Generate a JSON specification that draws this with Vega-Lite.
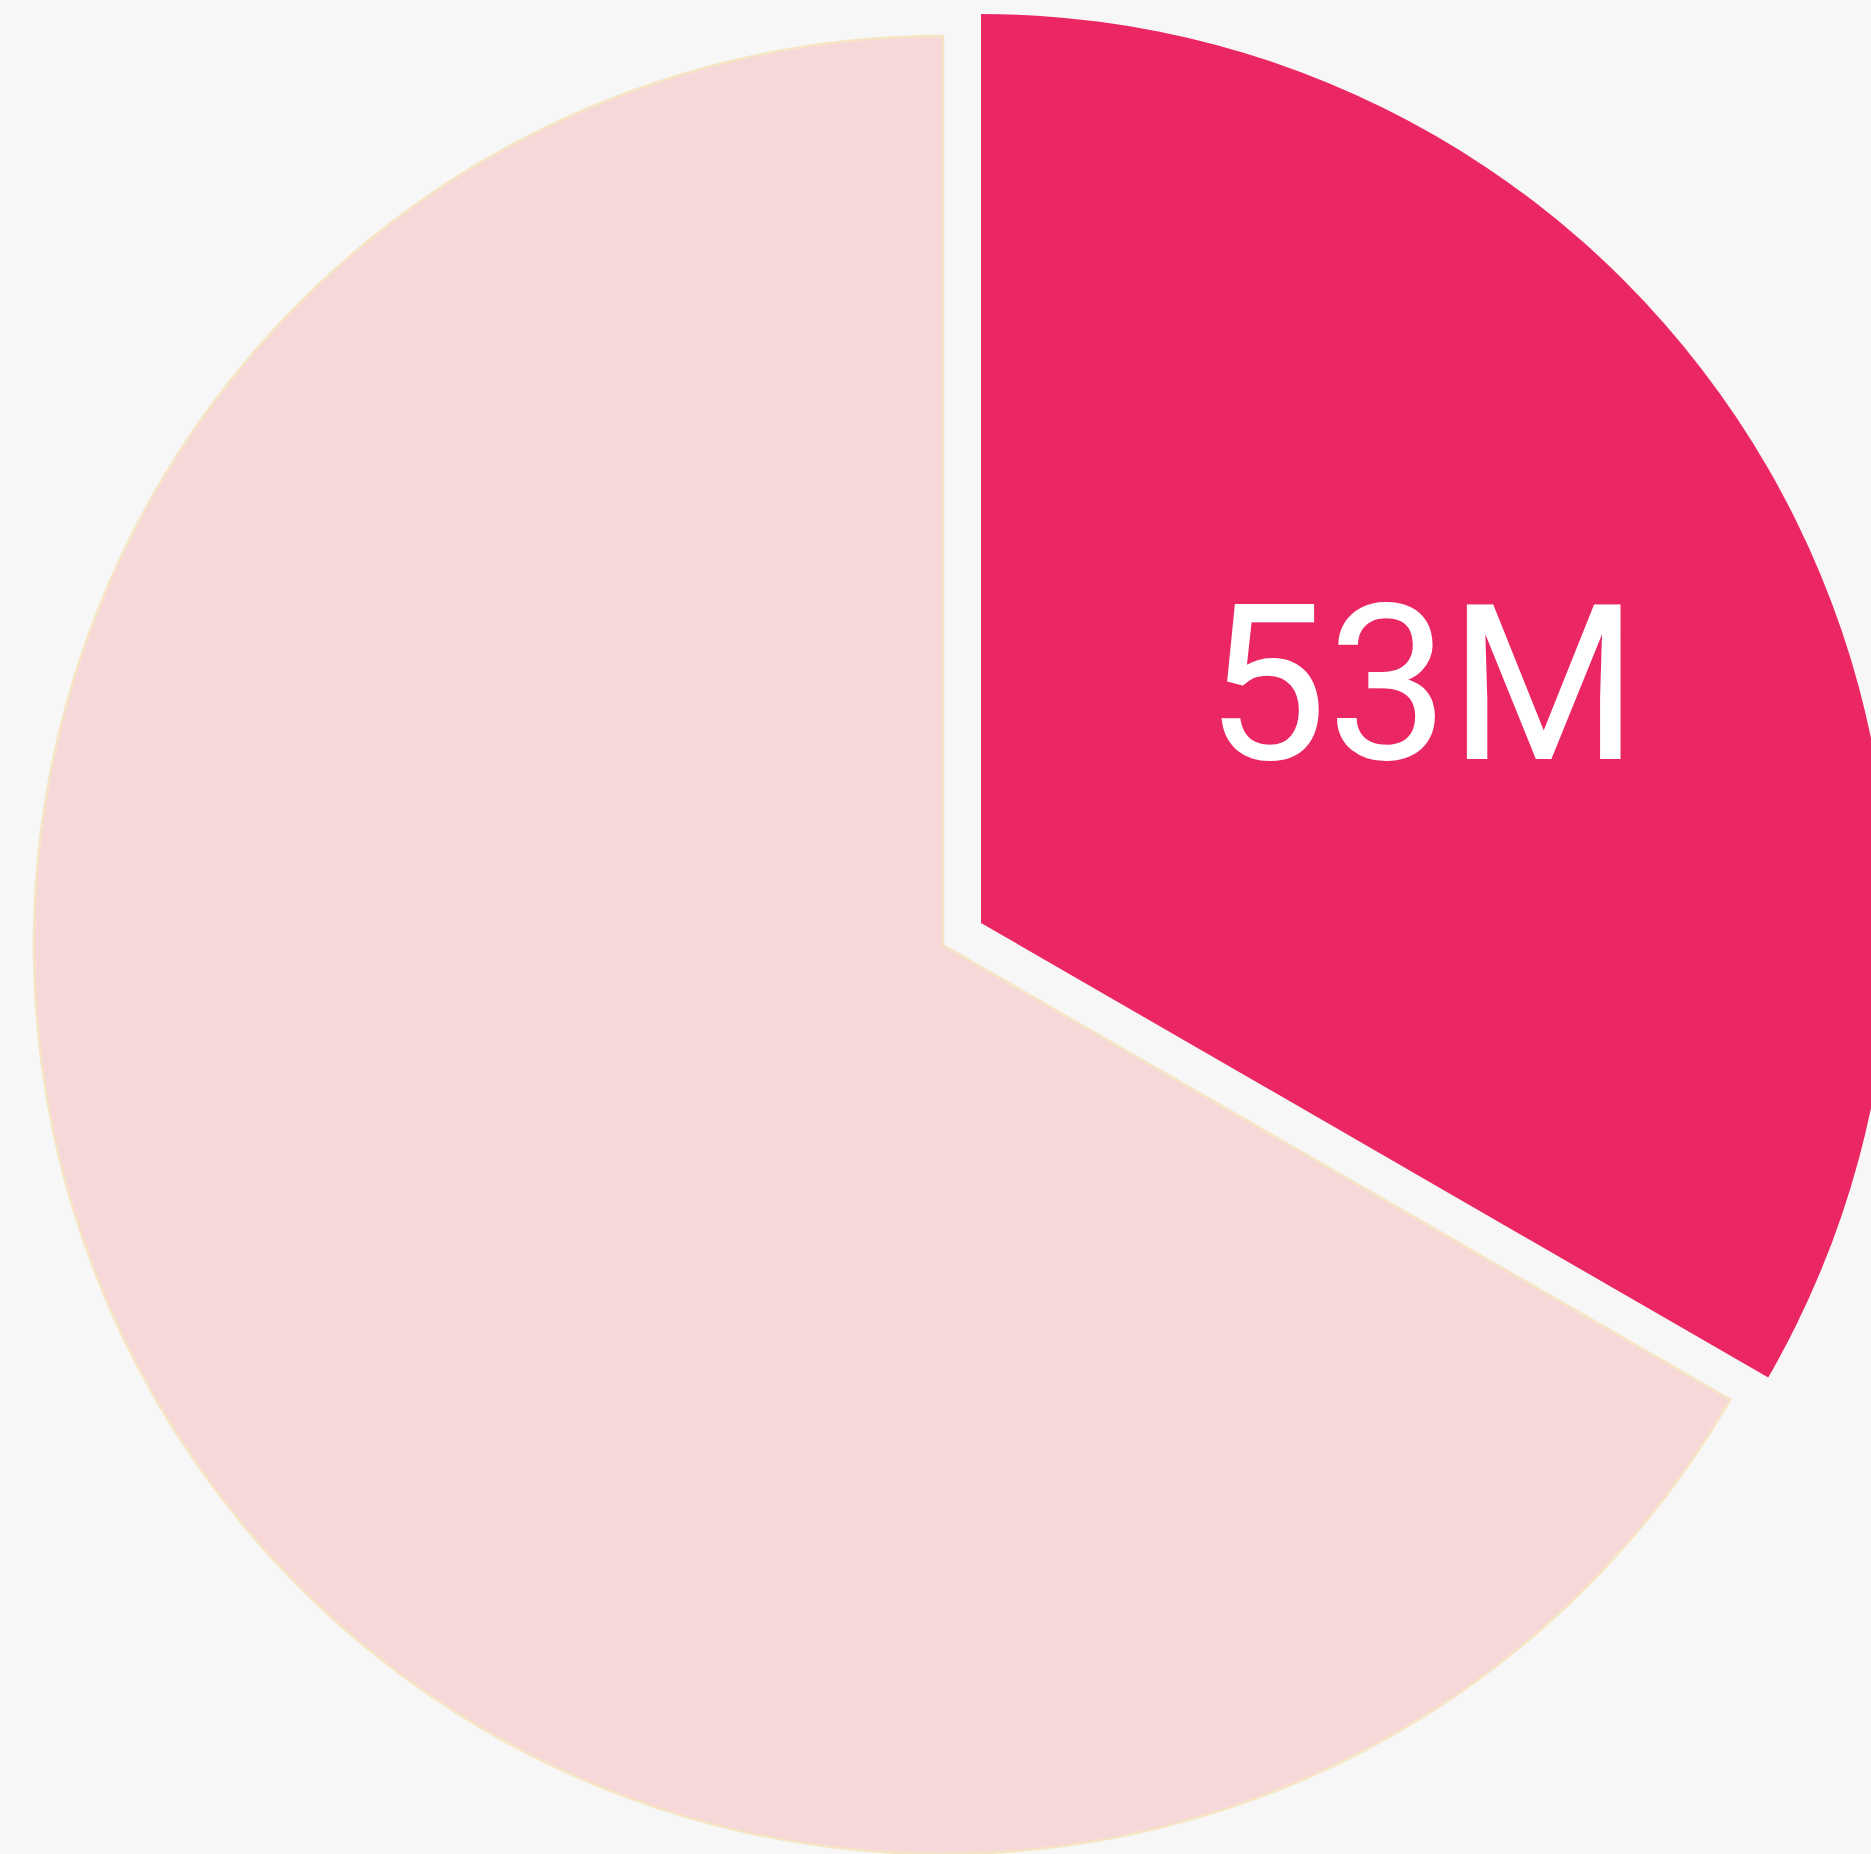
{
  "$schema": "https://vega.github.io/schema/vega-lite/v6.json",
  "width": 1856,
  "height": 1818,
  "autosize": "none",
  "padding": {"left": 15, "top": 36, "right": 0, "bottom": 0},
  "background": "#f7f7f7",
  "config": {"view": {"stroke": null}},
  "data": {"values": [
    {"segment": "Selected", "value": 53, "label": "53M"},
    {"segment": "Other", "value": 106, "label": "106M"}
  ]},
  "encoding": {
    "theta": {"field": "value", "type": "quantitative", "stack": true},
    "order": {"field": "value", "sort": "ascending"},
    "color": {"field": "segment", "type": "nominal", "legend": null,
      "scale": {"domain": ["Selected", "Other"], "range": ["#eb2763", "#f7d8d9"]}}
  },
  "layer": [
    {
      "mark": {"type": "arc", "radius": 909, "stroke": "#f6e5c4", "strokeWidth": 2.5},
      "encoding": {
        "opacity": {"condition": {"test": "datum.segment === 'Other'", "value": 1}, "value": 0}
      }
    },
    {
      "mark": {"type": "arc", "radius": 909, "xOffset": 38, "yOffset": -22},
      "encoding": {
        "opacity": {"condition": {"test": "datum.segment === 'Selected'", "value": 1}, "value": 0}
      }
    },
    {
      "mark": {"type": "text", "radius": 479, "xOffset": 64, "yOffset": -12, "font": "Roboto", "fontSize": 217, "align": "center", "baseline": "middle"},
      "encoding": {
        "text": {"field": "label"},
        "color": {"value": "#ffffff"},
        "opacity": {"condition": {"test": "datum.segment === 'Selected'", "value": 1}, "value": 0}
      }
    }
  ]
}
